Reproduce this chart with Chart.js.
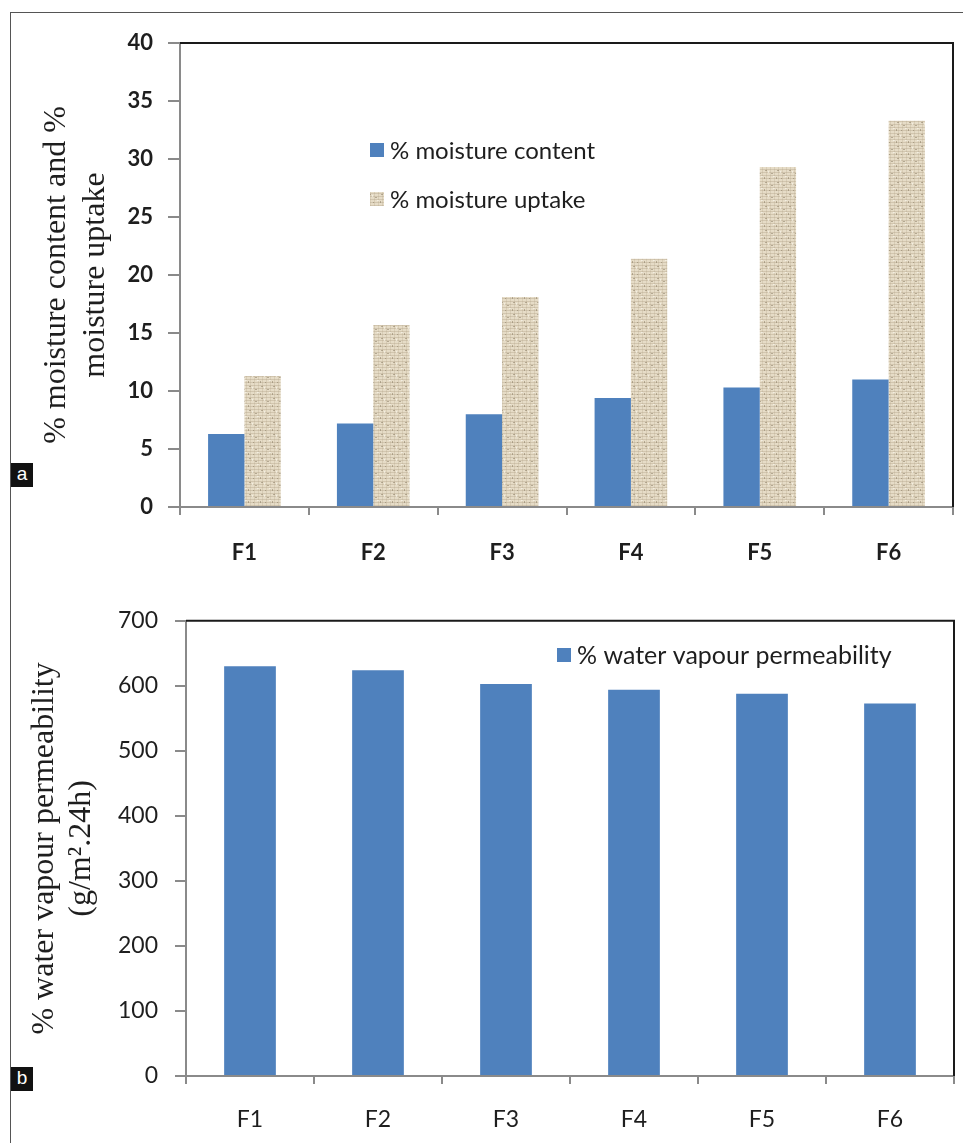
<!DOCTYPE html>
<html>
<head>
<meta charset="utf-8">
<script src="https://cdn.jsdelivr.net/npm/chart.js@4.4.1/dist/chart.umd.min.js"></script>
<style>
    body { margin: 0; background: #fff; }
    #page { position: relative; width: 963px; height: 1143px; overflow: hidden; }
    #frame { position: absolute; left: 10px; top: 12px; right: -2px; bottom: -2px; border-left: 1px solid #555; border-top: 1px solid #555; }
    .tag { position: absolute; left: 11px; width: 22px; height: 24px; background: #111; color: #fff;
           font: 19px "Liberation Sans", Arial, sans-serif; text-align: center; line-height: 22px; }
    #topWrap { position: absolute; left: 0; top: 0; }
    #bottomWrap { position: absolute; left: 0; top: 590px; }
</style>
</head>
<body>
<div id="page">
    <div id="frame"></div>
    <div id="topWrap"><canvas id="moistureChart" width="963" height="590"></canvas></div>
    <div id="bottomWrap"><canvas id="vapourChart" width="963" height="553"></canvas></div>
    <div class="tag" style="top:463px;">a</div>
    <div class="tag" style="top:1067px;">b</div>
</div>
<script>
// dados
const categories = ['F1', 'F2', 'F3', 'F4', 'F5', 'F6'];
const moistureContent = [6.3, 7.2, 8.0, 9.4, 10.3, 11.0];
const moistureUptake = [11.3, 15.7, 18.1, 21.4, 29.3, 33.3];
const vapourPermeability = [630, 624, 603, 594, 588, 573];
const topYTicks = [0, 5, 10, 15, 20, 25, 30, 35, 40];
const bottomYTicks = [0, 100, 200, 300, 400, 500, 600, 700];

const BLUE = '#4F81BD';
const AXIS_GREY = '#8a8a8a';
const TEXT = '#1e1e1e';

// textura tipo "serapilheira" para a segunda série
function makeBurlap() {
    const c = document.createElement('canvas');
    c.width = 12; c.height = 12;
    const g = c.getContext('2d');
    g.fillStyle = '#E6DCC7';
    g.fillRect(0, 0, 12, 12);
    g.fillStyle = 'rgba(165,150,120,0.30)';
    for (let y = 1; y < 12; y += 3) g.fillRect(0, y, 12, 1);
    g.fillStyle = 'rgba(175,160,130,0.25)';
    for (let x = 2; x < 12; x += 4) g.fillRect(x, 0, 1, 12);
    g.fillStyle = 'rgba(120,105,80,0.45)';
    g.fillRect(3, 5, 2, 1);
    g.fillRect(8, 9, 1, 2);
    g.fillRect(9, 2, 2, 1);
    g.fillRect(1, 10, 1, 1);
    g.fillStyle = 'rgba(255,255,250,0.5)';
    g.fillRect(5, 8, 2, 1);
    g.fillRect(0, 3, 1, 2);
    return g.createPattern(c, 'repeat');
}

// moldura: linhas superior e direita da área do gráfico
const plotFrame = {
    id: 'plotFrame',
    afterDraw(chart) {
        const { ctx, chartArea: a } = chart;
        ctx.save();
        ctx.strokeStyle = '#1a1a1a';
        ctx.lineWidth = 2;
        ctx.beginPath();
        ctx.moveTo(a.left, a.top);
        ctx.lineTo(a.right, a.top);
        ctx.lineTo(a.right, a.bottom);
        ctx.stroke();
        ctx.restore();
    }
};

// legenda desenhada dentro da área do gráfico
const insideLegend = {
    id: 'insideLegend',
    afterDraw(chart, args, opts) {
        const { ctx } = chart;
        ctx.save();
        ctx.font = opts.font;
        ctx.textBaseline = 'middle';
        chart.data.datasets.forEach((ds, i) => {
            const y = opts.y + i * opts.gap;
            ctx.fillStyle = ds.backgroundColor;
            ctx.fillRect(opts.x, y - 7, 14, 14);
            ctx.fillStyle = TEXT;
            ctx.fillText(ds.label, opts.x + 20, y + 1);
        });
        ctx.restore();
    }
};

function useTicks(list) {
    return scale => { scale.ticks = list.map(v => ({ value: v })); };
}

Chart.defaults.font.family = 'Lato, "Open Sans", sans-serif';
Chart.defaults.color = TEXT;

function renderMoistureChart() {
    const ctx = document.getElementById('moistureChart').getContext('2d');
    new Chart(ctx, {
        type: 'bar',
        data: {
            labels: categories,
            datasets: [
                { label: '% moisture content', data: moistureContent, backgroundColor: BLUE },
                { label: '% moisture uptake', data: moistureUptake, backgroundColor: makeBurlap() }
            ]
        },
        options: {
            responsive: false,
            animation: false,
            layout: { padding: { top: 43, right: 10, left: 0, bottom: 0 } },
            datasets: { bar: { categoryPercentage: 0.564, barPercentage: 1.0 } },
            scales: {
                x: {
                    grid: { offset: true, drawOnChartArea: false, tickLength: 8, color: AXIS_GREY, lineWidth: 2 },
                    border: { color: AXIS_GREY, width: 2 },
                    ticks: { font: { size: 22, weight: 'bold' }, padding: 25, color: TEXT },
                    afterFit: s => { s.height = 83; }
                },
                y: {
                    min: 0, max: 40,
                    afterBuildTicks: useTicks(topYTicks),
                    grid: { drawOnChartArea: false, tickLength: 12, color: AXIS_GREY, lineWidth: 2 },
                    border: { color: AXIS_GREY, width: 2 },
                    ticks: { font: { size: 22, weight: 'bold' }, padding: 15, color: TEXT },
                    title: {
                        display: true,
                        text: ['% moisture content and %', 'moisture uptake'],
                        font: { family: '"Liberation Serif", "Times New Roman", serif', size: 32, lineHeight: 1.19 },
                        color: TEXT,
                        padding: { top: 38, bottom: 0 }
                    },
                    afterFit: s => { s.width = 180; }
                }
            },
            plugins: {
                legend: { display: false },
                tooltip: { enabled: false },
                insideLegend: { x: 370, y: 150, gap: 49, font: '24px Lato, "Open Sans", sans-serif' }
            }
        },
        plugins: [plotFrame, insideLegend]
    });
}

function renderVapourChart() {
    const ctx = document.getElementById('vapourChart').getContext('2d');
    new Chart(ctx, {
        type: 'bar',
        data: {
            labels: categories,
            datasets: [
                { label: '% water vapour permeability', data: vapourPermeability, backgroundColor: BLUE }
            ]
        },
        options: {
            responsive: false,
            animation: false,
            layout: { padding: { top: 24, right: 9, left: 0, bottom: 0 } },
            datasets: { bar: { categoryPercentage: 0.404, barPercentage: 1.0 } },
            scales: {
                x: {
                    grid: { offset: true, drawOnChartArea: false, tickLength: 8, color: AXIS_GREY, lineWidth: 2 },
                    border: { color: AXIS_GREY, width: 2 },
                    ticks: { font: { size: 23 }, padding: 22, color: TEXT },
                    afterFit: s => { s.height = 67; }
                },
                y: {
                    min: 0, max: 700,
                    afterBuildTicks: useTicks(bottomYTicks),
                    grid: { drawOnChartArea: false, tickLength: 11, color: AXIS_GREY, lineWidth: 2 },
                    border: { color: AXIS_GREY, width: 2 },
                    ticks: { font: { size: 23 }, padding: 17, color: TEXT },
                    title: {
                        display: true,
                        text: ['% water vapour permeability', '(g/m\u00B2.24h)'],
                        font: { family: '"Liberation Serif", "Times New Roman", serif', size: 32, lineHeight: 1.16 },
                        color: TEXT,
                        padding: { top: 26, bottom: 0 }
                    },
                    afterFit: s => { s.width = 186; }
                }
            },
            plugins: {
                legend: { display: false },
                tooltip: { enabled: false },
                insideLegend: { x: 557, y: 65, gap: 0, font: '25px Lato, "Open Sans", sans-serif' }
            }
        },
        plugins: [plotFrame, insideLegend]
    });
}

document.addEventListener('DOMContentLoaded', () => {
    renderMoistureChart();
    renderVapourChart();
});
</script>
</body>
</html>
